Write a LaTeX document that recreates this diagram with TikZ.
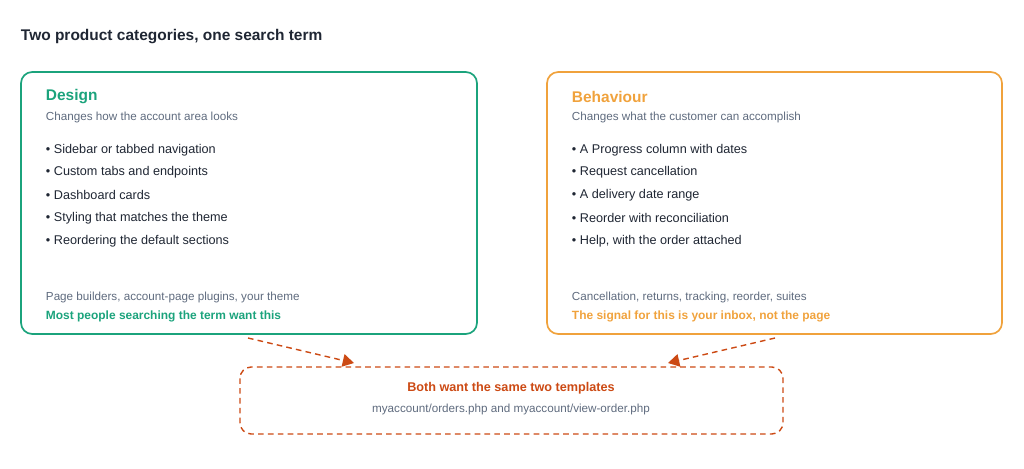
\documentclass[tikz,border=0pt]{standalone}
\usepackage{fontspec}
\setmainfont{Liberation Sans}
\usetikzlibrary{positioning,arrows.meta}
\definecolor{designgreen}{HTML}{1BA37C}
\definecolor{behavorange}{HTML}{F0A23C}
\definecolor{bothred}{HTML}{CC4A14}
\definecolor{mutedgray}{HTML}{5F6B7E}
\definecolor{inkdark}{HTML}{1F2633}
\tikzset{
  card/.style = {draw, line width=1.2pt, rounded corners=8pt},
  heading/.style = {anchor=west, font=\fontsize{11}{13}\selectfont\bfseries},
  sub/.style = {anchor=west, text=mutedgray, font=\fontsize{8.3}{10}\selectfont},
  item/.style = {anchor=west, text=inkdark, font=\fontsize{9}{11}\selectfont},
  tag/.style = {anchor=west, font=\fontsize{8.5}{10}\selectfont\bfseries},
  link/.style = {draw=bothred, line width=1pt, dash pattern=on 4pt off 3pt, -{Triangle[length=8pt,width=9pt]}}
}
\begin{document}
\begin{tikzpicture}[x=0.025cm,y=-0.025cm]
\useasboundingbox (0,0) rectangle (1024,468);
\node[anchor=west, text=inkdark, font=\fontsize{11}{13}\selectfont\bfseries] (title) at (16,37) {Two product categories, one search term};

% design card
\draw[card, draw=designgreen] (21,72) rectangle (477,334);
\node[heading, text=designgreen] (dhead) at (41,97) {Design};
\node[sub] (dsub) at (41,117) {Changes how the account area looks};
\foreach \t [count=\i] in {Sidebar or tabbed navigation, Custom tabs and endpoints, Dashboard cards, Styling that matches the theme, Reordering the default sections}
  \node[item] (d\i) at (41,127+22.8*\i) {• \t};
\node[sub] (dfoot) at (41,297) {Page builders, account-page plugins, your theme};
\node[tag, text=designgreen] (dtag) at (41,316) {Most people searching the term want this};

% behaviour card
\draw[card, draw=behavorange] (547,72) rectangle (1002,334);
\node[heading, text=behavorange] (bhead) at (567,97) {Behaviour};
\node[sub] (bsub) at (567,117) {Changes what the customer can accomplish};
\foreach \t [count=\i] in {A Progress column with dates, Request cancellation, A delivery date range, Reorder with reconciliation, {Help, with the order attached}}
  \node[item] (b\i) at (567,127+22.8*\i) {• \t};
\node[sub] (bfoot) at (567,297) {Cancellation, returns, tracking, reorder, suites};
\node[tag, text=behavorange] (btag) at (567,316) {The signal for this is your inbox, not the page};

% shared box
\draw[draw=bothred, line width=1pt, dash pattern=on 4pt off 3pt, rounded corners=8pt] (240,367) rectangle (783,434);
\node[font=\fontsize{9}{11}\selectfont\bfseries, text=bothred] (both) at (511,388) {Both want the same two templates};
\node[font=\fontsize{8.3}{10}\selectfont, text=mutedgray] (paths) at (511,409) {myaccount/orders.php and myaccount/view-order.php};

\coordinate (dout) at (248,338);
\coordinate (din) at (354,363);
\coordinate (bout) at (775,338);
\coordinate (bin) at (668,363);
\draw[link] (dout) -- (din);
\draw[link] (bout) -- (bin);
\end{tikzpicture}
\end{document}
